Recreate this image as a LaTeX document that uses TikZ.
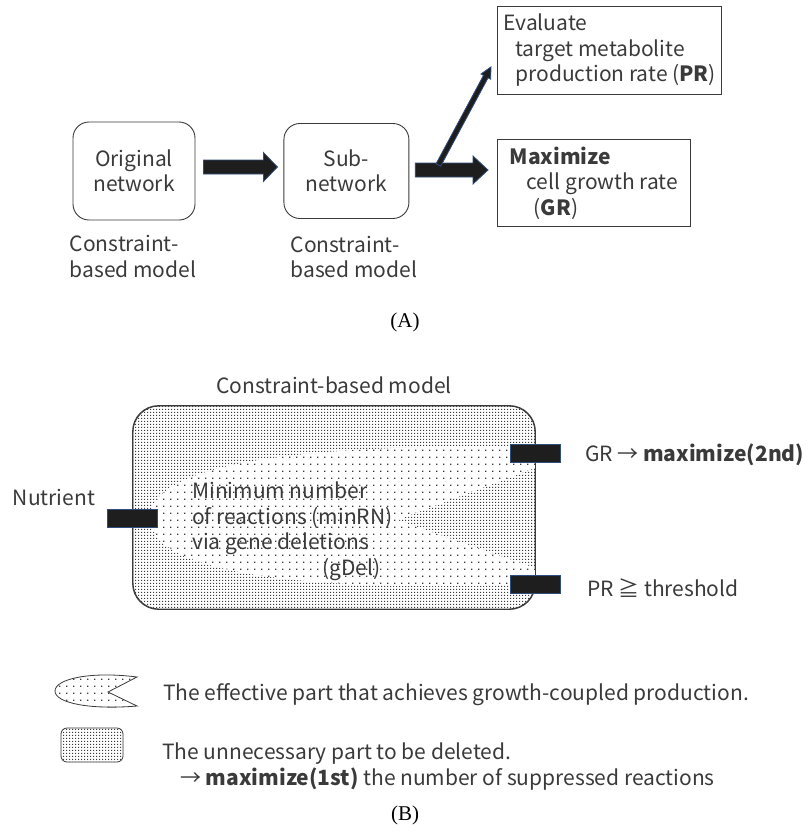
\documentclass[tikz,border=0pt]{standalone}
\usepackage{fontspec}
\setmainfont{Noto Sans CJK JP}
\newfontfamily\capfont{Liberation Serif}
\usetikzlibrary{positioning,calc,patterns.meta}

\definecolor{inkgray}{HTML}{3A3A3A}
\definecolor{arrowfill}{HTML}{1E1E1E}
\definecolor{arrowline}{HTML}{2F4D7E}

\pgfdeclarepattern{name=densedots, type=uncolored,
  bottom left={\pgfpoint{0pt}{0pt}}, top right={\pgfpoint{2.5pt}{2.5pt}},
  tile size={\pgfpoint{2.5pt}{2.5pt}},
  code={\pgfpathrectangle{\pgfpoint{0pt}{0pt}}{\pgfpoint{1.45pt}{1.45pt}}\pgfusepath{fill}}}
\pgfdeclarepattern{name=sparsedots, type=uncolored,
  bottom left={\pgfpoint{0pt}{0pt}}, top right={\pgfpoint{6.5pt}{6.5pt}},
  tile size={\pgfpoint{6.5pt}{6.5pt}},
  code={\pgfpathrectangle{\pgfpoint{0pt}{0pt}}{\pgfpoint{1.4pt}{1.4pt}}\pgfusepath{fill}}}

\newcommand{\fs}{\fontsize{21}{25.5}\selectfont}

% block arrow: start, end, half shaft, half head, head length
\newcommand{\fatarrow}[5]{%
  \coordinate (hb) at ($(#2)!#5!(#1)$);
  \draw[fatarrow] ($(#1)!#3!-90:(#2)$) -- ($(hb)!#3!90:(#1)$) -- ($(hb)!#4!90:(#1)$)
    -- (#2) -- ($(hb)!#4!-90:(#1)$) -- ($(hb)!#3!-90:(#1)$) -- ($(#1)!#3!90:(#2)$) -- cycle;}

\tikzset{
  lbl/.style={font=\fs, align=left, inner sep=0pt, text=inkgray},
  box/.style={draw=inkgray, line width=0.9pt, text=inkgray, font=\fs, inner sep=0pt},
  roundbox/.style={box, rounded corners=16pt, align=center},
  goalbox/.style={box, align=left, inner xsep=6pt},
  fatarrow/.style={fill=arrowfill, draw=arrowline, line width=0.8pt},
  port/.style={fill=arrowfill, draw=arrowline, line width=0.8pt, inner sep=0pt,
    minimum width=50pt, minimum height=18pt},
  dense/.style={pattern={densedots}, pattern color=inkgray},
  fish/.style={preaction={fill=white}, pattern={sparsedots}, pattern color=inkgray},
  caption/.style={font=\capfont\fontsize{21}{25}\selectfont, text=black}
}

\begin{document}
\begin{tikzpicture}[x=1pt,y=-1pt]
\useasboundingbox (0,0) rectangle (811,838);

% (A) networks
\node[roundbox, minimum width=122pt, minimum height=98pt] (orig) at (134,171) {Original\\network};
\node[roundbox, minimum width=125pt, minimum height=95pt, right=88pt of orig] (sub) {Sub-\\network};
\node[lbl, below right=15pt and -3pt of orig.south west] (origlbl) {Constraint-\\based model};
\node[lbl, below right=17pt and 7pt of sub.south west] (sublbl) {Constraint-\\based model};

% objectives
\node[goalbox, anchor=north west, minimum width=212pt, minimum height=88pt] (eval) at (497,6)
  {Evaluate\\\hspace*{12pt}target metabolite\\\hspace*{12pt}production rate (\textbf{PR})};
\node[goalbox, below right=44pt and 0pt of eval.south west, minimum width=193pt, minimum height=87pt] (maxim)
  {\textbf{Maximize}\\\hspace*{17pt}cell growth rate\\\hspace*{24pt}(\textbf{GR})};

% arrows
\coordinate (a1) at ($(orig.east)+(8,-4)$);
\fatarrow{a1}{$(a1 -| sub.west)+(-6,0)$}{7pt}{14.5pt}{14pt}
\coordinate (a2) at ($(sub.east)+(6,-1)$);
\fatarrow{a2}{$(a2 -| maxim.west)+(-9,0)$}{7pt}{14pt}{15pt}
\coordinate (fork) at ($(a2)+(23,-5)$);
\coordinate (evtip) at ($(eval.south west)+(-6,-28)$);
\fatarrow{fork}{evtip}{2.6pt}{5.5pt}{11pt}

\node[caption] (capa) at (405,322) {(A)};

% (B) constraint-based model
\node[draw=inkgray, line width=0.9pt, rounded corners=26pt, dense, minimum width=402pt, minimum height=203pt] (cell) at (334,507.5) {};
\node[lbl, above=12pt of cell] (cbm) {Constraint-based model};

% effective part
\path[fish] (150,518) .. controls (150,466) and (290,443) .. (535,447) -- (535,468) -- (397,520)
  -- (535,568) -- (535,584) .. controls (300,593) and (150,572) .. cycle;
\draw[draw=inkgray, line width=0.9pt, rounded corners=26pt] (cell.north west) rectangle (cell.south east);

\node[lbl, anchor=north west] (minrn) at (192,482)
  {Minimum number\\of reactions (minRN)\\via gene deletions\\\hspace*{130pt}(gDel)};

% ports
\node[port] (nport) at ($(cell.west)+(0,11)$) {};
\node[port] (grport) at ($(cell.north east)+(0,48)$) {};
\node[port] (prport) at ($(cell.south east)+(0,-25)$) {};
\node[lbl, anchor=base east] (nutr) at ($(nport.west)+(-12,-13)$) {Nutrient};
\node[lbl, anchor=base west] (grlbl) at ($(grport.east)+(24,8)$) {GR → \textbf{maximize(2nd)}};
\node[lbl, anchor=base west] (prlbl) at ($(prport.east)+(26,12)$) {PR ≧ threshold};

% legend
\path[fish, draw=inkgray, line width=0.8pt] (137,677) .. controls (90,671) and (55,679) .. (55,691)
  .. controls (55,703) and (90,710) .. (137,706) -- (108,692) -- cycle;
\node[draw=inkgray, line width=0.8pt, rounded corners=6pt, dense, minimum width=62pt, minimum height=34pt] (delkey) at (92,745) {};
\node[lbl, anchor=base west] (effkey) at (163,700) {The effective part that achieves growth-coupled production.};
\node[lbl, anchor=north west] (delkeylbl) at (162,743)
  {The unnecessary part to be deleted.\\\hspace*{18pt}→ \textbf{maximize(1st)} the number of suppressed reactions};

\node[caption] (capb) at (405,815) {(B)};

\end{tikzpicture}
\end{document}
